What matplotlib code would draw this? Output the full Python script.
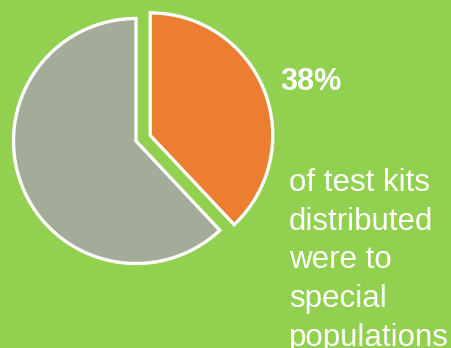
import matplotlib.pyplot as plt

# share of test kits
labels = ["Special populations", "Other"]
shares = [38, 62]
slice_colors = ["#ED7D31", "#A3AC99"]

headline = "38%"
caption = "of test kits\ndistributed\nwere to\nspecial\npopulations"

bg = "#92D050"
radius = 122.5
# pie() offsets exploded wedges in data units, so scale by the radius
explode = [0.125 * radius, 0]

fig = plt.figure(figsize=(4.52, 3.48), dpi=100)
fig.patch.set_facecolor(bg)
ax = fig.add_axes([0, 0, 1, 1])
ax.set_facecolor(bg)

ax.pie(
    shares,
    colors=slice_colors,
    explode=explode,
    startangle=90,
    counterclock=False,
    center=(136, 348 - 141),
    radius=radius,
    wedgeprops=dict(edgecolor="white", linewidth=2.4),
    frame=True,
)
ax.set_xlim(0, 452)
ax.set_ylim(0, 348)
ax.set_aspect("equal")
ax.axis("off")

ax.text(280, 348 - 82, headline, color="white", fontsize=22,
        fontweight="bold", family="Liberation Sans", va="center", ha="left")
ax.text(289, 348 - 168, caption, color="white", fontsize=22.5,
        family="Liberation Sans", va="top", ha="left", linespacing=1.38)

fig.savefig("out.png", dpi=100, facecolor=bg)
